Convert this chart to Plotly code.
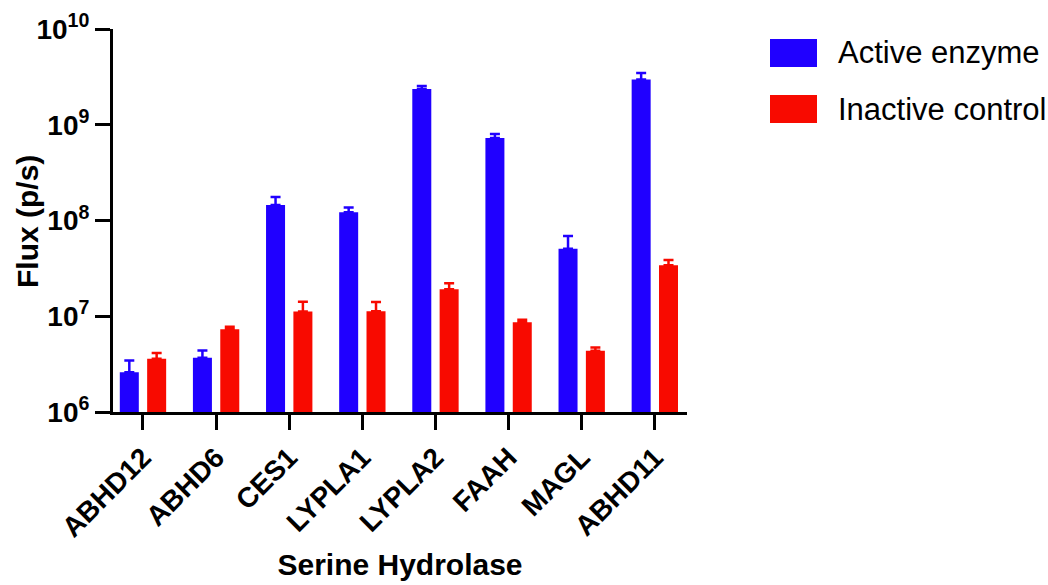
import plotly.graph_objects as go

categories = ["ABHD12", "ABHD6", "CES1", "LYPLA1", "LYPLA2", "FAAH", "MAGL", "ABHD11"]
active_values = [2.6e6, 3.69e6, 1.45e8, 1.22e8, 2.36e9, 7.27e8, 5.08e7, 2.96e9]
active_err = [0.86e6, 0.71e6, 0.31e8, 0.15e8, 0.18e9, 0.73e8, 1.82e7, 0.51e9]
inactive_values = [3.6e6, 7.3e6, 1.12e7, 1.13e7, 1.91e7, 8.65e6, 4.37e6, 3.4e7]
inactive_err = [0.53e6, 0.47e6, 0.30e7, 0.28e7, 0.30e7, 0.55e6, 0.36e6, 0.47e7]
series_names = ["Active enzyme", "Inactive control"]
y_tickvals = [1e6, 1e7, 1e8, 1e9, 1e10]
y_ticktext = ["10<sup>6</sup>", "10<sup>7</sup>", "10<sup>8</sup>", "10<sup>9</sup>", "10<sup>10</sup>"]
y_title = "Flux (p/s)"
x_title = "Serine Hydrolase"

BLUE = "#2000FF"
RED = "#F80A00"
FONT = "Liberation Sans, Arial, sans-serif"

fig = go.Figure()
for name, vals, errs, col in [
    (series_names[0], active_values, active_err, BLUE),
    (series_names[1], inactive_values, inactive_err, RED),
]:
    fig.add_trace(go.Bar(
        x=categories, y=vals, name=name,
        marker=dict(color=col, line=dict(width=0)),
        error_y=dict(type="data", symmetric=False, array=errs,
                     arrayminus=[0] * len(errs), color=col, thickness=2.5, width=5),
        showlegend=False,
    ))

fig.update_layout(
    width=1048, height=585,
    margin=dict(l=113, r=361, t=29, b=173),
    paper_bgcolor="white", plot_bgcolor="white",
    barmode="group", bargap=0.252, bargroupgap=0.305,
    font=dict(family=FONT, color="black"),
)
fig.update_xaxes(
    range=[-0.41, 7.44], automargin=False,
    showline=True, linecolor="black", linewidth=3,
    ticks="outside", ticklen=15, tickwidth=3, tickcolor="black",
    tickangle=-45,
    tickfont=dict(family=FONT, size=28, weight="bold", color="black"),
    title=dict(text=x_title, font=dict(family=FONT, size=30, weight="bold", color="black"), standoff=13),
    showgrid=False, zeroline=False,
)
fig.update_yaxes(
    type="log", range=[6, 10], automargin=False,
    tickvals=y_tickvals, ticktext=y_ticktext,
    showline=True, linecolor="black", linewidth=3,
    ticks="outside", ticklen=15, tickwidth=3, tickcolor="black",
    tickfont=dict(family=FONT, size=28, weight="bold", color="black"),
    showgrid=False, zeroline=False,
)

# y-axis title placed explicitly
fig.add_annotation(xref="paper", yref="paper",
                   x=(27 - 113) / 574, y=(412 - 222) / 383,
                   text=y_title, textangle=-90, showarrow=False,
                   xanchor="center", yanchor="middle",
                   font=dict(family=FONT, size=30, weight="bold", color="black"))

# legend swatches + labels
legend_items = [(series_names[0], BLUE, 39, 67), (series_names[1], RED, 95, 123)]
for name, col, y0, y1 in legend_items:
    fig.add_shape(type="rect", xref="paper", yref="paper",
                  x0=(770 - 113) / 574, x1=(817 - 113) / 574,
                  y0=(412 - y1) / 383, y1=(412 - y0) / 383,
                  fillcolor=col, line=dict(width=0))
    fig.add_annotation(xref="paper", yref="paper",
                       x=(836 - 113) / 574, y=(412 - (y0 + y1) / 2) / 383,
                       text=name, showarrow=False, xanchor="left", yanchor="middle",
                       font=dict(family=FONT, size=31, color="black"))

fig.write_html("out.html", config={"displayModeBar": False},
               post_script="document.body.style.margin='0';")
